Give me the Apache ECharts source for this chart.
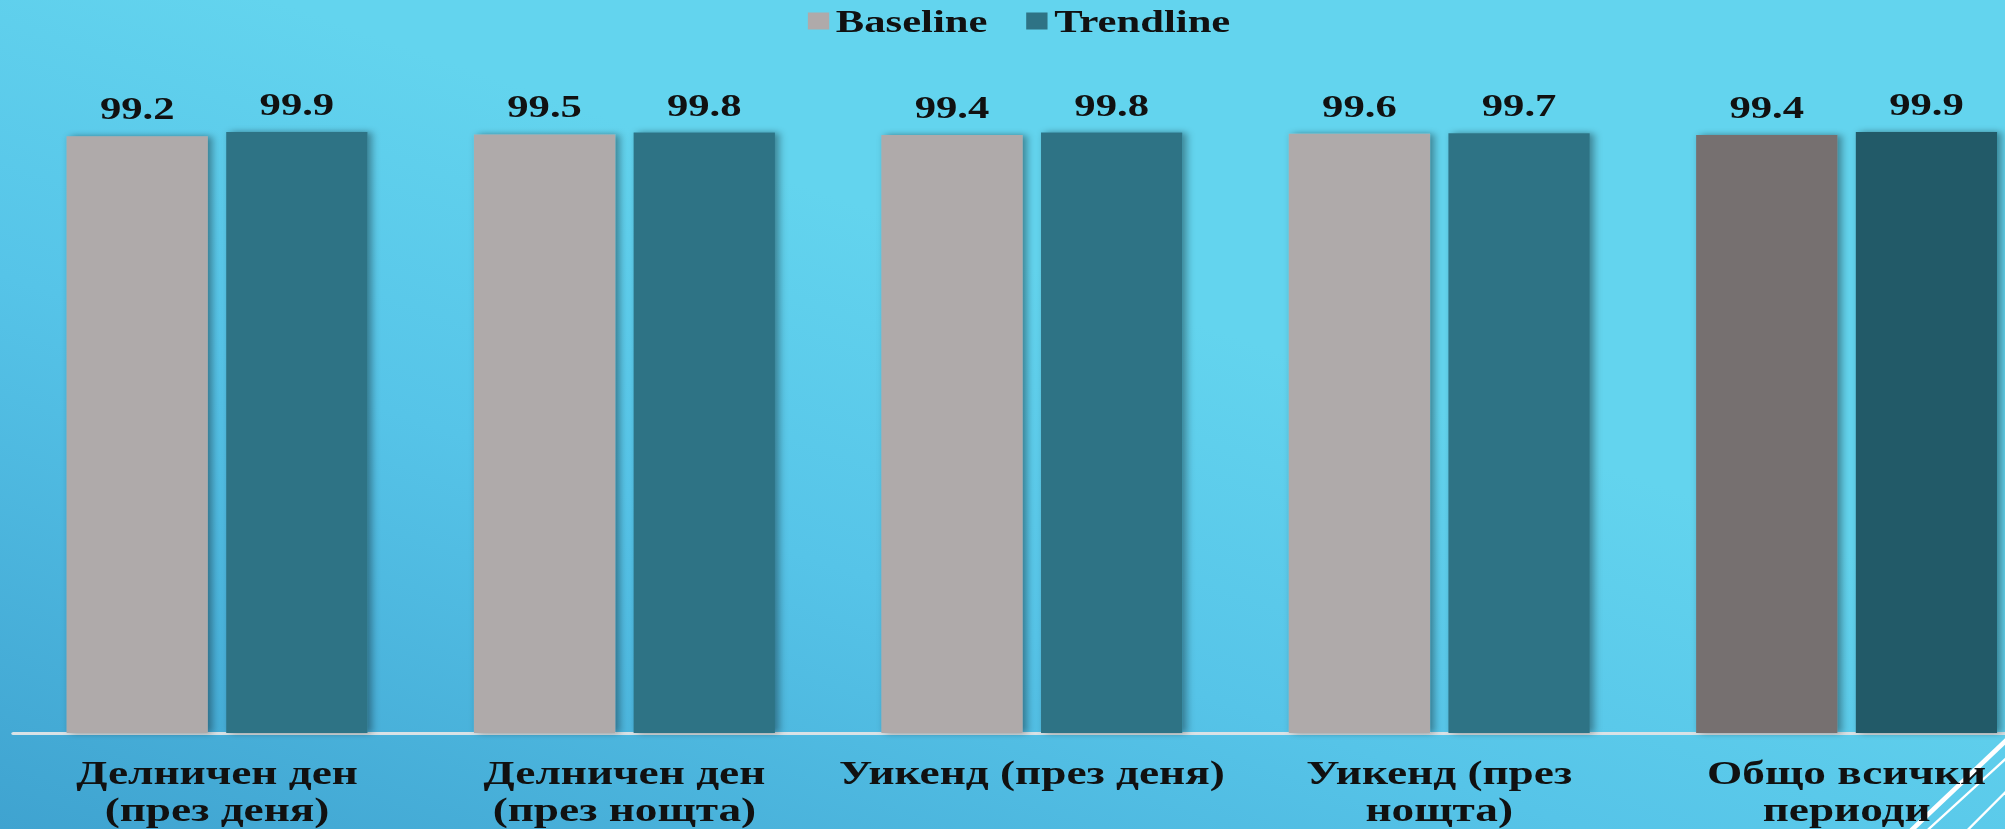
<!DOCTYPE html>
<html>
<head>
<meta charset="utf-8">
<script src="https://cdn.jsdelivr.net/npm/echarts@6/dist/echarts.min.js"></script>
<style>
html,body{margin:0;padding:0;width:2005px;height:829px;overflow:hidden;background:#63D4EE;}
#chart{width:1504px;height:829px;transform:scaleX(1.33311);transform-origin:0 0;}
</style>
</head>
<body>
<div id="chart"></div>
<script>
const categories = [
  'Делничен ден\n(през деня)',
  'Делничен ден\n(през нощта)',
  'Уикенд (през деня)',
  'Уикенд (през\nнощта)',
  'Общо всички\nпериоди'
];
const seriesNames = ['Baseline', 'Trendline'];
const baselineValues = [99.2, 99.5, 99.4, 99.6, 99.4];
const trendlineValues = [99.9, 99.8, 99.8, 99.7, 99.9];

const serif = '"Liberation Serif","Times New Roman","DejaVu Serif",serif';
const colors = {
  base: '#AFAAAA', trend: '#2E7385',
  baseTotal: '#767070', trendTotal: '#245A68'
};
function buildData(values, normal, last) {
  return values.map((v, i) => ({
    value: v,
    itemStyle: { color: i === values.length - 1 ? last : normal }
  }));
}
const chart = echarts.init(document.getElementById('chart'), null, { renderer: 'svg' });
const barShadow = { shadowBlur: 6, shadowOffsetX: 3, shadowColor: 'rgba(0,0,0,0.4)' };
const valueLabel = {
  show: true, position: 'top', distance: 12,
  fontFamily: serif, fontWeight: 'bold', fontSize: 32, color: '#111',
  formatter: p => p.value.toFixed(1)
};
chart.setOption({
  backgroundColor: {
    type: 'linear', x: 0, y: 1, x2: 0.55, y2: 0.35,
    colorStops: [
      { offset: 0, color: '#3FA3D0' },
      { offset: 0.6, color: '#56C4E8' },
      { offset: 1, color: '#63D4EE' }
    ]
  },
  animation: false,
  legend: {
    data: seriesNames,
    left: 601, top: 0, padding: 5,
    icon: 'rect', itemWidth: 16, itemHeight: 17, itemGap: 29,
    textStyle: { fontFamily: serif, fontWeight: 'bold', fontSize: 32, color: '#111' }
  },
  grid: { left: 10, width: 1528, top: 131.4, bottom: 96, containLabel: false, outerBoundsMode: 'none' },
  xAxis: {
    type: 'category', data: categories,
    axisLine: { show: true, lineStyle: { color: '#D9E2E6', width: 3 } },
    axisTick: { show: false },
    axisLabel: {
      interval: 0, margin: 21,
      fontFamily: serif, fontWeight: 'bold', fontSize: 34, lineHeight: 37, color: '#111'
    }
  },
  yAxis: {
    type: 'value', min: 0, max: 100,
    show: false, splitLine: { show: false }
  },
  series: [
    {
      name: seriesNames[0], type: 'bar', barWidth: 106, barGap: '13%',
      color: colors.base,
      data: buildData(baselineValues, colors.base, colors.baseTotal),
      itemStyle: barShadow, label: valueLabel
    },
    {
      name: seriesNames[1], type: 'bar', barWidth: 106, barGap: '13%',
      color: colors.trend,
      data: buildData(trendlineValues, colors.trend, colors.trendTotal),
      itemStyle: barShadow, label: valueLabel
    }
  ],
  graphic: [
    { type: 'line', shape: { x1: 1434, y1: 830, x2: 1506, y2: 739 }, style: { stroke: '#FFFFFF', lineWidth: 4 } },
    { type: 'line', shape: { x1: 1446, y1: 830, x2: 1506, y2: 757 }, style: { stroke: '#FFFFFF', lineWidth: 2 } },
    { type: 'line', shape: { x1: 1476, y1: 830, x2: 1506, y2: 790 }, style: { stroke: '#FFFFFF', lineWidth: 2 } }
  ]
});
</script>
</body>
</html>
